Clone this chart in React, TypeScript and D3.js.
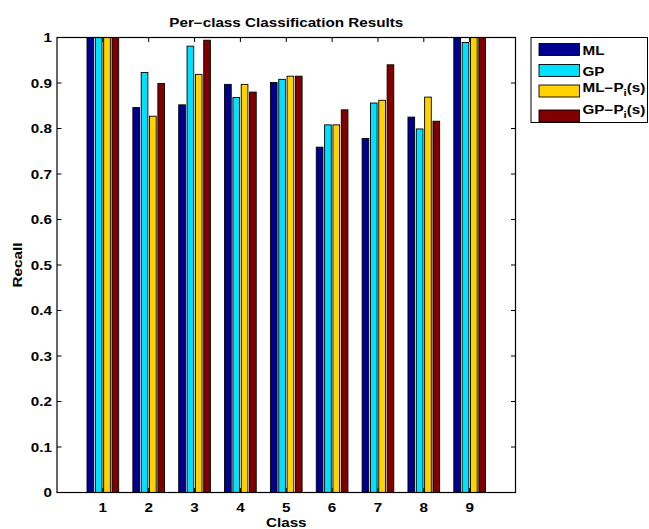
import * as d3 from 'd3';
import { useEffect, useRef } from 'react';

const classes = [1, 2, 3, 4, 5, 6, 7, 8, 9];
const seriesNames = ['ML', 'GP', 'ML−P', 'GP−P'];
const seriesColors = ['#00008F', '#00E1FF', '#FFD200', '#800000'];
const mlValues = [1.0, 0.846, 0.852, 0.897, 0.901, 0.759, 0.778, 0.825, 1.0];
const gpValues = [1.0, 0.923, 0.981, 0.868, 0.908, 0.808, 0.856, 0.799, 0.989];
const mlPiValues = [1.0, 0.827, 0.919, 0.897, 0.915, 0.808, 0.862, 0.869, 1.0];
const gpPiValues = [1.0, 0.899, 0.994, 0.880, 0.915, 0.841, 0.940, 0.816, 1.0];
const yTicks = [0, 0.1, 0.2, 0.3, 0.4, 0.5, 0.6, 0.7, 0.8, 0.9, 1];

export default function App() {
  const ref = useRef<SVGSVGElement>(null);

  useEffect(() => {
    document.body.style.margin = '0';
    const svg = d3.select(ref.current);
    svg.selectAll('*').remove();

    const left = 57, right = 515.5, top = 37.5, bottom = 492.5;
    const font = '"Liberation Sans", Arial, Helvetica, sans-serif';
    const stretch = 1.27; // the figure's text is rendered wide

    const x = d3.scaleLinear().domain([0, 10]).range([left, right]);
    const y = d3.scaleLinear().domain([0, 1]).range([bottom, top]);

    const series = [mlValues, gpValues, mlPiValues, gpPiValues];
    const groupWidth = Math.min(0.8, 4 / (4 + 1.5));
    const slot = groupWidth / 4;
    const barW = slot * 0.8;

    const label = (parent: any, tx: number, ty: number, str: string, anchor: string, rot = 0) =>
      parent.append('text')
        .attr('transform', `translate(${tx},${ty})${rot ? ` rotate(${rot})` : ''} scale(${stretch},1)`)
        .attr('text-anchor', anchor)
        .style('font-family', font).style('font-weight', 'bold').style('font-size', '12px')
        .text(str);

    /* ---------- BARS ---------- */
    const g = svg.append('g');
    series.forEach((vals, j) => {
      g.selectAll(`.bar-${j}`)
        .data(vals)
        .enter()
        .append('rect')
        .attr('x', (d, i) => x(classes[i] + (j - 1.5) * slot - barW / 2))
        .attr('width', x(barW) - x(0))
        .attr('y', d => y(d))
        .attr('height', d => y(0) - y(d))
        .attr('fill', seriesColors[j])
        .attr('stroke', '#000')
        .attr('stroke-width', 0.9);
    });

    /* ---------- AXES BOX + TICKS ---------- */
    const tickLen = 4.5;
    const ticks = svg.append('g').attr('stroke', '#000').attr('stroke-width', 1);
    classes.forEach(c => {
      ticks.append('line').attr('x1', x(c)).attr('x2', x(c)).attr('y1', bottom).attr('y2', bottom - tickLen);
      ticks.append('line').attr('x1', x(c)).attr('x2', x(c)).attr('y1', top).attr('y2', top + tickLen);
    });
    yTicks.forEach(t => {
      ticks.append('line').attr('x1', left).attr('x2', left + tickLen).attr('y1', y(t)).attr('y2', y(t));
      ticks.append('line').attr('x1', right).attr('x2', right - tickLen).attr('y1', y(t)).attr('y2', y(t));
    });
    svg.append('rect')
      .attr('x', left).attr('y', top)
      .attr('width', right - left).attr('height', bottom - top)
      .attr('fill', 'none').attr('stroke', '#000').attr('stroke-width', 1.2);

    /* ---------- LABELS ---------- */
    const txt = svg.append('g');
    yTicks.forEach(t =>
      label(txt, left - 5, y(t) + 4.5, t === 0 || t === 1 ? String(t) : t.toFixed(1), 'end'));
    classes.forEach(c => label(txt, x(c), 512, String(c), 'middle'));
    label(txt, x(5), 527, 'Class', 'middle');
    label(txt, 22, (top + bottom) / 2, 'Recall', 'middle', -90);
    label(txt, (left + right) / 2, 27, 'Per−class Classification Results', 'middle');

    /* ---------- LEGEND ---------- */
    const lg = svg.append('g');
    lg.append('rect').attr('x', 531).attr('y', 37.5).attr('width', 116.5).attr('height', 85)
      .attr('fill', '#fff').attr('stroke', '#000').attr('stroke-width', 1);

    const swatchY = [43.5, 64.5, 85, 110];
    const textY = [54.5, 75.5, 91.5, 113.5];
    seriesNames.forEach((name, j) => {
      lg.append('rect').attr('x', 539).attr('y', swatchY[j]).attr('width', 40.5).attr('height', 12)
        .attr('fill', seriesColors[j]).attr('stroke', '#000').attr('stroke-width', 0.9);
      const t = label(lg, 582.5, textY[j], '', 'start');
      t.append('tspan').text(name);
      if (j >= 2) {
        t.append('tspan').attr('dy', 4).style('font-size', '9px').text('i');
        t.append('tspan').attr('dy', -4).text('(s)');
      }
    });
  }, []);

  return <svg ref={ref} width={649} height={529} style={{ display: 'block' }} />;
}
